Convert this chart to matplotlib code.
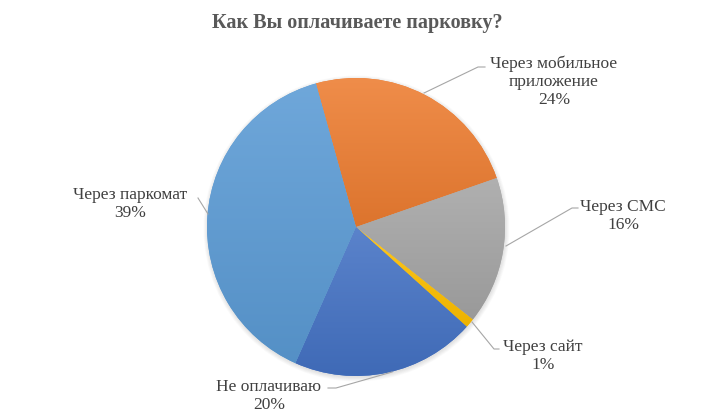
import numpy as np
import matplotlib.pyplot as plt
from matplotlib.colors import to_rgb
from matplotlib.patches import Circle

labels = ['Через мобильное\nприложение', 'Через СМС', 'Через сайт', 'Не оплачиваю', 'Через паркомат']
shares = [24, 16, 1, 20, 39]
colors = ['#ED7D31', '#A5A5A5', '#FFC000', '#4472C4', '#5B9BD5']
title = 'Как Вы оплачиваете парковку?'

W, H = 716, 416
cx, cy, r = 356, H - 227, 149

fig = plt.figure(figsize=(W / 100, H / 100), dpi=100)
ax = fig.add_axes([0, 0, 1, 1])

# soft shadow
for k in range(6):
    ax.add_patch(Circle((cx + 0.5, cy - 1.5), r + 4 - k * 0.8, color='#000000', alpha=0.018, lw=0, zorder=0))

wedges, _ = ax.pie(shares, colors=colors, startangle=105.6, counterclock=False,
                   center=(cx, cy), radius=r, frame=True,
                   wedgeprops=dict(linewidth=0))

# Excel-like vertical gradient
for w, c in zip(wedges, colors):
    base = np.array(to_rgb(c))
    top = base + (1 - base) * 0.12
    bot = base * 0.93
    ext = w.get_path().get_extents()
    t = np.linspace(0, 1, 64)[:, None]
    grad = top * (1 - t) + bot * t
    img = ax.imshow(grad[:, None, :], extent=(ext.x0, ext.x1, ext.y0, ext.y1),
                    origin='upper', aspect='auto', zorder=2, interpolation='bilinear')
    img.set_clip_path(w)

ax.set_xlim(0, W)
ax.set_ylim(0, H)
ax.set_aspect('equal')
ax.axis('off')

font = dict(family='Liberation Serif', color='#404040', fontsize=12.5)
lc = '#A6A6A6'

def label(text, pct, x, y, pts):
    ax.text(x, H - y, f'{text}\n{pct}%', ha='center', va='center', linespacing=1.15, zorder=5, **font)
    xs = [p[0] for p in pts]
    ys = [H - p[1] for p in pts]
    ax.plot(xs, ys, color=lc, lw=0.8, zorder=4)

label(labels[0], shares[0], 554, 82, [(424, 93), (478, 67), (485, 67)])
label(labels[1], shares[1], 623, 216, [(506, 246), (572, 208), (578, 208)])
label(labels[2], shares[2], 543, 356, [(472, 322), (494, 349), (499, 349)])
label(labels[3], shares[3], 269, 396, [(392, 372), (336, 388), (328, 388)])
label(labels[4], shares[4], 130, 204, [(208, 214), (198, 198)])

ax.text(357, H - 23, title, ha='center', va='center', fontsize=14.5, fontweight='bold',
        family='Liberation Serif', color='#595959')

fig.savefig('out.png', dpi=100)
